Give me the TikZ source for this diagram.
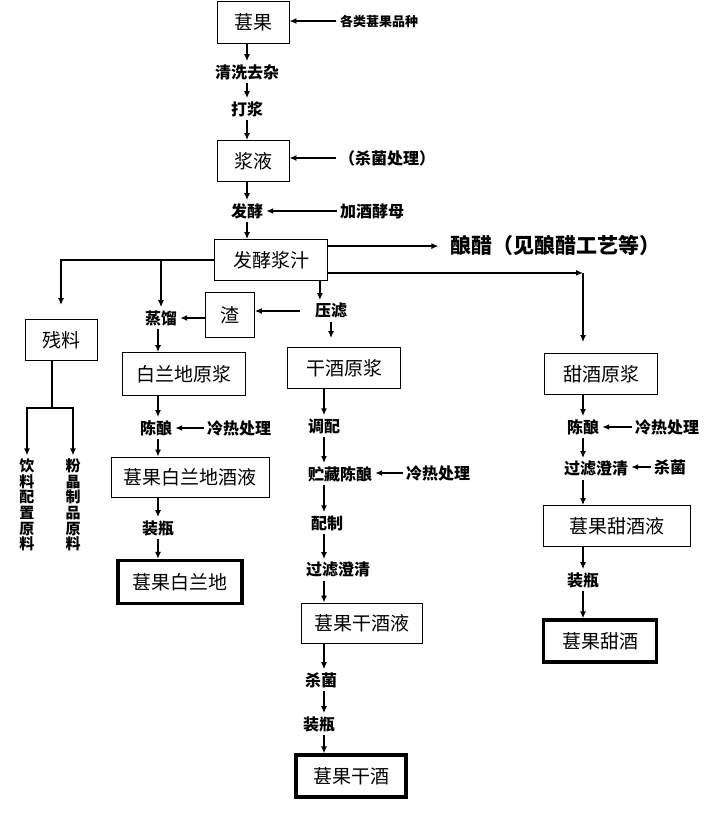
\documentclass[tikz,border=0pt]{standalone}
\usepackage{fontspec}
\setmainfont{Noto Sans CJK SC}
\usetikzlibrary{positioning, arrows.meta}

\begin{document}
\begin{tikzpicture}[
		x=1pt, y=-1pt,
		procbox/.style={rectangle, draw, line width=0.8pt, inner sep=0pt, font=\fontsize{19}{21}\selectfont},
		prodbox/.style={procbox, line width=3.2pt},
		textb/.style={font=\bfseries\fontsize{16}{18}\selectfont, inner sep=3pt},
		mylabel/.style={font=\bfseries\fontsize{13}{15}\selectfont},
		vtext/.style={font=\bfseries\fontsize{15}{15.7}\selectfont, align=center, inner sep=3pt},
		flow/.style={line width=1.6pt},
		>={Latex[length=7pt, width=6pt]}
	]
	\useasboundingbox (0,0) rectangle (722,816);

	% main stem
	\node[procbox, minimum width=72pt, minimum height=42pt] (guo) at (253,22) {葚果};
	\node[mylabel] (pinzhong) at (379,21) {各类葚果品种};
	\node[textb] (wash) at (247,72) {清洗去杂};
	\node[textb] (dajiang) at (247,109) {打浆};
	\node[procbox, minimum width=72pt, minimum height=41pt] (jiangye) at (253,161) {浆液};
	\node[textb] (shajun) at (387,158) {（杀菌处理）};
	\node[textb] (fajiao) at (247,211) {发酵};
	\node[textb] (jiumu) at (372,211) {加酒酵母};
	\node[procbox, minimum width=113pt, minimum height=41pt] (zhi) at (271,260) {发酵浆汁};
	\node[font=\bfseries\fontsize{21}{23}\selectfont] (cu) at (555,245) {酿醋（见酿醋工艺等）};

	% residue and brandy
	\node[procbox, minimum width=72pt, minimum height=41pt] (canliao) at (61,340) {残料};
	\node[vtext] (yinliao) at (27,505) {饮\\料\\配\\置\\原\\料};
	\node[vtext] (fenjing) at (73,505) {粉\\晶\\制\\品\\原\\料};
	\node[textb] (zhengliu) at (161,318) {蒸馏};
	\node[procbox, minimum width=49pt, minimum height=45pt] (zha) at (230,315) {渣};
	\node[textb] (yalv) at (331,311) {压滤};
	\node[procbox, minimum width=123pt, minimum height=43pt] (baiyuan) at (184,374) {白兰地原浆};
	\node[textb] (bchen) at (156,428) {陈酿};
	\node[textb] (blengre) at (239,428) {冷热处理};
	\node[procbox, minimum width=158pt, minimum height=40pt] (baijiu) at (190,477) {葚果白兰地酒液};
	\node[textb] (bzhuang) at (158,528) {装瓶};
	\node[prodbox, minimum width=124pt, minimum height=43pt] (baidi) at (180,582) {葚果白兰地};

	% dry wine
	\node[procbox, minimum width=113pt, minimum height=41pt] (ganyuan) at (344,368) {干酒原浆};
	\node[textb] (tiaopei) at (324,426) {调配};
	\node[textb] (zhucang) at (340,474) {贮藏陈酿};
	\node[textb] (glengre) at (438,473) {冷热处理};
	\node[textb] (peizhi) at (327,523) {配制};
	\node[textb] (dlv) at (338,570) {过滤澄清};
	\node[procbox, minimum width=121pt, minimum height=40pt] (ganjiu) at (362,623) {葚果干酒液};
	\node[textb] (dsha) at (321,680) {杀菌};
	\node[textb] (dzhuang) at (319,724) {装瓶};
	\node[prodbox, minimum width=110pt, minimum height=42pt] (ganfinal) at (351,776) {葚果干酒};

	% sweet wine
	\node[procbox, minimum width=113pt, minimum height=41pt] (tianyuan) at (601,374) {甜酒原浆};
	\node[textb] (tchen) at (583,427) {陈酿};
	\node[textb] (tlengre) at (667,427) {冷热处理};
	\node[textb] (tlv) at (596,469) {过滤澄清};
	\node[textb] (tsha) at (670,467) {杀菌};
	\node[procbox, minimum width=147pt, minimum height=41pt] (tianjiu) at (617,526) {葚果甜酒液};
	\node[textb] (tzhuang) at (583,580) {装瓶};
	\node[prodbox, minimum width=113pt, minimum height=42pt] (tianfinal) at (600,641) {葚果甜酒};

	% column arrows
	\foreach \i/\j in {guo/wash, wash/dajiang, dajiang/jiangye, jiangye/fajiao, fajiao/zhi}
		\draw[flow, ->] (\i.south -| wash) -- (wash |- \j.north);

	\foreach \i/\j in {zhengliu/baiyuan, baiyuan/bchen, bchen/baijiu, baijiu/bzhuang, bzhuang/baidi}
		\draw[flow, ->] (\i.south -| bzhuang) -- (bzhuang |- \j.north);

	\foreach \i/\j in {ganyuan/tiaopei, tiaopei/zhucang, zhucang/peizhi, peizhi/dlv, dlv/ganjiu, ganjiu/dsha, dsha/dzhuang, dzhuang/ganfinal}
		\draw[flow, ->] (\i.south -| tiaopei) -- (tiaopei |- \j.north);

	\foreach \i/\j in {tchen/tlv, tlv/tianjiu, tianjiu/tzhuang, tzhuang/tianfinal}
		\draw[flow, ->] (\i.south -| tchen) -- (tchen |- \j.north);
	\draw[flow, ->] (tianyuan.south -| tchen) -- (tchen);

	% side inputs
	\foreach \i/\j in {pinzhong/guo, shajun/jiangye, jiumu/fajiao, blengre/bchen, glengre/zhucang, tlengre/tchen, tsha/tlv}
		\draw[flow, ->] (\i) -- (\i -| \j.east);

	% branches of the juice
	\coordinate (custart) at ([yshift=-7pt]zhi.north east);
	\draw[flow, ->, shorten >=8pt] (custart) -- (custart -| cu.west);

	\draw[flow, ->, shorten >=14pt] (zhi.west) -| (canliao.north);
	\draw[flow, ->] (zhi.west -| zhengliu) -- (zhengliu);

	\coordinate (tstart) at ([yshift=8pt]zhi.south east);
	\coordinate (tcorner) at (tstart -| tchen);
	\draw[flow, ->] (tstart) -- (tcorner);
	\draw[flow, ->, shorten >=11pt] (tcorner) -- (tcorner |- tianyuan.north);

	\coordinate (ylin) at ([xshift=-8pt]zhi.south east);
	\draw[flow, ->] (ylin) -- (ylin |- yalv.north);
	\draw[flow, ->, shorten <=12pt] (yalv) -- (yalv -| zha.east);
	\draw[flow, ->] (zha.west |- zhengliu) -- (zhengliu);
	\draw[flow, ->, shorten >=9pt] (yalv) -- (yalv |- ganyuan.north);

	% residue split
	\coordinate (clout) at ([xshift=-9pt]canliao.south);
	\coordinate (csplit) at ([yshift=-47pt]clout);
	\draw[flow] (clout) -- (csplit);
	\draw[flow, ->] (csplit) -| (yinliao);
	\draw[flow, ->] (csplit) -| (fenjing);

\end{tikzpicture}
\end{document}
